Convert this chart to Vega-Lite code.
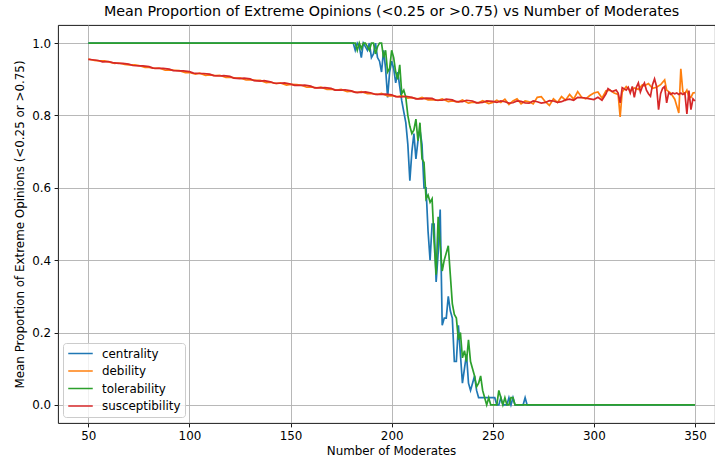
{
  "$schema": "https://vega.github.io/schema/vega-lite/v6.json",
  "width": 657,
  "height": 398,
  "autosize": {"type": "none"},
  "padding": {"left": 58, "top": 25, "right": 0, "bottom": 38},
  "title": {"text": "Mean Proportion of Extreme Opinions (<0.25 or >0.75) vs Number of Moderates", "fontSize": 14.3, "fontWeight": "normal", "color": "black", "offset": 6, "dx": 5},
  "config": {
    "font": "DejaVu Sans",
    "view": {"stroke": "black", "strokeWidth": 0.9},
    "axis": {"domain": false, "tickColor": "black", "tickSize": 3.9, "tickWidth": 0.9, "labelFontSize": 11.9, "labelColor": "black", "labelPadding": 3.5, "gridColor": "#b0b0b0", "gridWidth": 0.9, "titleFontSize": 11.9, "titleFontWeight": "normal", "titleColor": "black"},
    "legend": {"strokeColor": "#cccccc", "fillColor": "rgba(255,255,255,0.8)", "cornerRadius": 3, "padding": 4, "labelFontSize": 11.9, "labelColor": "black", "symbolType": "stroke", "symbolStrokeWidth": 1.7, "rowPadding": 4.5, "clipHeight": 13, "labelOffset": 8}
  },
  "data": {"values": [
    {"m":50,"v":1.0,"s":"centrality"},{"m":180,"v":1.0,"s":"centrality"},{"m":181,"v":1.0,"s":"centrality"},{"m":182,"v":0.98,"s":"centrality"},{"m":183,"v":1.0,"s":"centrality"},{"m":184,"v":0.99,"s":"centrality"},{"m":185,"v":0.96,"s":"centrality"},{"m":186,"v":1.0,"s":"centrality"},{"m":187,"v":0.99,"s":"centrality"},{"m":188,"v":0.98,"s":"centrality"},{"m":189,"v":1.0,"s":"centrality"},{"m":190,"v":0.96,"s":"centrality"},{"m":191,"v":0.97,"s":"centrality"},{"m":192,"v":1.0,"s":"centrality"},{"m":193,"v":0.96,"s":"centrality"},{"m":194,"v":0.95,"s":"centrality"},{"m":195,"v":0.92,"s":"centrality"},{"m":196,"v":0.98,"s":"centrality"},{"m":197,"v":0.93,"s":"centrality"},{"m":198,"v":0.85,"s":"centrality"},{"m":199,"v":0.92,"s":"centrality"},{"m":200,"v":0.95,"s":"centrality"},{"m":201,"v":0.93,"s":"centrality"},{"m":202,"v":0.89,"s":"centrality"},{"m":203,"v":0.92,"s":"centrality"},{"m":204,"v":0.88,"s":"centrality"},{"m":205,"v":0.84,"s":"centrality"},{"m":206,"v":0.81,"s":"centrality"},{"m":207,"v":0.78,"s":"centrality"},{"m":208,"v":0.72,"s":"centrality"},{"m":209,"v":0.62,"s":"centrality"},{"m":210,"v":0.7,"s":"centrality"},{"m":211,"v":0.75,"s":"centrality"},{"m":212,"v":0.68,"s":"centrality"},{"m":213,"v":0.73,"s":"centrality"},{"m":214,"v":0.76,"s":"centrality"},{"m":215,"v":0.72,"s":"centrality"},{"m":216,"v":0.6,"s":"centrality"},{"m":217,"v":0.6,"s":"centrality"},{"m":218,"v":0.48,"s":"centrality"},{"m":219,"v":0.4,"s":"centrality"},{"m":220,"v":0.5,"s":"centrality"},{"m":221,"v":0.5,"s":"centrality"},{"m":222,"v":0.34,"s":"centrality"},{"m":223,"v":0.42,"s":"centrality"},{"m":224,"v":0.54,"s":"centrality"},{"m":225,"v":0.22,"s":"centrality"},{"m":226,"v":0.24,"s":"centrality"},{"m":227,"v":0.24,"s":"centrality"},{"m":228,"v":0.3,"s":"centrality"},{"m":229,"v":0.26,"s":"centrality"},{"m":230,"v":0.24,"s":"centrality"},{"m":231,"v":0.12,"s":"centrality"},{"m":232,"v":0.12,"s":"centrality"},{"m":233,"v":0.22,"s":"centrality"},{"m":234,"v":0.14,"s":"centrality"},{"m":235,"v":0.06,"s":"centrality"},{"m":236,"v":0.1,"s":"centrality"},{"m":237,"v":0.14,"s":"centrality"},{"m":238,"v":0.06,"s":"centrality"},{"m":239,"v":0.04,"s":"centrality"},{"m":240,"v":0.06,"s":"centrality"},{"m":241,"v":0.08,"s":"centrality"},{"m":242,"v":0.04,"s":"centrality"},{"m":243,"v":0.02,"s":"centrality"},{"m":251,"v":0.02,"s":"centrality"},{"m":252,"v":0.0,"s":"centrality"},{"m":253,"v":0.0,"s":"centrality"},{"m":254,"v":0.02,"s":"centrality"},{"m":255,"v":0.0,"s":"centrality"},{"m":257,"v":0.0,"s":"centrality"},{"m":258,"v":0.02,"s":"centrality"},{"m":259,"v":0.0,"s":"centrality"},{"m":260,"v":0.02,"s":"centrality"},{"m":261,"v":0.0,"s":"centrality"},{"m":265,"v":0.0,"s":"centrality"},{"m":266,"v":0.02,"s":"centrality"},{"m":267,"v":0.0,"s":"centrality"},{"m":350,"v":0.0,"s":"centrality"},

    {"m":50,"v":0.956,"s":"debility"},{"m":53,"v":0.952,"s":"debility"},{"m":55,"v":0.951,"s":"debility"},{"m":58,"v":0.951,"s":"debility"},{"m":60,"v":0.948,"s":"debility"},{"m":63,"v":0.944,"s":"debility"},{"m":65,"v":0.945,"s":"debility"},{"m":68,"v":0.941,"s":"debility"},{"m":70,"v":0.94,"s":"debility"},{"m":73,"v":0.94,"s":"debility"},{"m":75,"v":0.938,"s":"debility"},{"m":78,"v":0.933,"s":"debility"},{"m":80,"v":0.933,"s":"debility"},{"m":83,"v":0.93,"s":"debility"},{"m":85,"v":0.931,"s":"debility"},{"m":88,"v":0.925,"s":"debility"},{"m":90,"v":0.926,"s":"debility"},{"m":93,"v":0.925,"s":"debility"},{"m":95,"v":0.924,"s":"debility"},{"m":98,"v":0.918,"s":"debility"},{"m":100,"v":0.919,"s":"debility"},{"m":103,"v":0.914,"s":"debility"},{"m":105,"v":0.917,"s":"debility"},{"m":108,"v":0.911,"s":"debility"},{"m":110,"v":0.912,"s":"debility"},{"m":113,"v":0.91,"s":"debility"},{"m":115,"v":0.911,"s":"debility"},{"m":118,"v":0.905,"s":"debility"},{"m":120,"v":0.906,"s":"debility"},{"m":123,"v":0.903,"s":"debility"},{"m":125,"v":0.904,"s":"debility"},{"m":128,"v":0.898,"s":"debility"},{"m":130,"v":0.899,"s":"debility"},{"m":133,"v":0.897,"s":"debility"},{"m":135,"v":0.897,"s":"debility"},{"m":138,"v":0.891,"s":"debility"},{"m":140,"v":0.892,"s":"debility"},{"m":143,"v":0.888,"s":"debility"},{"m":145,"v":0.89,"s":"debility"},{"m":148,"v":0.884,"s":"debility"},{"m":150,"v":0.886,"s":"debility"},{"m":153,"v":0.885,"s":"debility"},{"m":155,"v":0.884,"s":"debility"},{"m":158,"v":0.878,"s":"debility"},{"m":160,"v":0.879,"s":"debility"},{"m":163,"v":0.876,"s":"debility"},{"m":165,"v":0.878,"s":"debility"},{"m":168,"v":0.872,"s":"debility"},{"m":170,"v":0.873,"s":"debility"},{"m":173,"v":0.87,"s":"debility"},{"m":175,"v":0.872,"s":"debility"},{"m":178,"v":0.866,"s":"debility"},{"m":180,"v":0.867,"s":"debility"},{"m":183,"v":0.863,"s":"debility"},{"m":185,"v":0.866,"s":"debility"},{"m":188,"v":0.86,"s":"debility"},{"m":190,"v":0.86,"s":"debility"},{"m":193,"v":0.858,"s":"debility"},{"m":195,"v":0.861,"s":"debility"},{"m":198,"v":0.854,"s":"debility"},{"m":200,"v":0.855,"s":"debility"},{"m":203,"v":0.852,"s":"debility"},{"m":205,"v":0.855,"s":"debility"},{"m":208,"v":0.848,"s":"debility"},{"m":210,"v":0.849,"s":"debility"},{"m":213,"v":0.846,"s":"debility"},{"m":215,"v":0.85,"s":"debility"},{"m":218,"v":0.843,"s":"debility"},{"m":220,"v":0.844,"s":"debility"},{"m":223,"v":0.842,"s":"debility"},{"m":225,"v":0.846,"s":"debility"},{"m":228,"v":0.838,"s":"debility"},{"m":230,"v":0.84,"s":"debility"},{"m":233,"v":0.837,"s":"debility"},{"m":235,"v":0.843,"s":"debility"},{"m":238,"v":0.834,"s":"debility"},{"m":240,"v":0.837,"s":"debility"},{"m":243,"v":0.835,"s":"debility"},{"m":245,"v":0.841,"s":"debility"},{"m":248,"v":0.833,"s":"debility"},{"m":250,"v":0.836,"s":"debility"},{"m":252,"v":0.842,"s":"debility"},{"m":254,"v":0.836,"s":"debility"},{"m":256,"v":0.845,"s":"debility"},{"m":258,"v":0.83,"s":"debility"},{"m":260,"v":0.84,"s":"debility"},{"m":262,"v":0.846,"s":"debility"},{"m":264,"v":0.832,"s":"debility"},{"m":266,"v":0.84,"s":"debility"},{"m":268,"v":0.838,"s":"debility"},{"m":270,"v":0.832,"s":"debility"},{"m":272,"v":0.85,"s":"debility"},{"m":274,"v":0.852,"s":"debility"},{"m":276,"v":0.838,"s":"debility"},{"m":278,"v":0.828,"s":"debility"},{"m":280,"v":0.846,"s":"debility"},{"m":282,"v":0.836,"s":"debility"},{"m":284,"v":0.852,"s":"debility"},{"m":286,"v":0.842,"s":"debility"},{"m":288,"v":0.858,"s":"debility"},{"m":290,"v":0.845,"s":"debility"},{"m":292,"v":0.866,"s":"debility"},{"m":294,"v":0.85,"s":"debility"},{"m":296,"v":0.846,"s":"debility"},{"m":298,"v":0.855,"s":"debility"},{"m":300,"v":0.862,"s":"debility"},{"m":302,"v":0.865,"s":"debility"},{"m":304,"v":0.848,"s":"debility"},{"m":306,"v":0.868,"s":"debility"},{"m":308,"v":0.87,"s":"debility"},{"m":310,"v":0.862,"s":"debility"},{"m":312,"v":0.858,"s":"debility"},{"m":313,"v":0.796,"s":"debility"},{"m":314,"v":0.865,"s":"debility"},{"m":316,"v":0.88,"s":"debility"},{"m":318,"v":0.868,"s":"debility"},{"m":320,"v":0.876,"s":"debility"},{"m":322,"v":0.872,"s":"debility"},{"m":324,"v":0.885,"s":"debility"},{"m":325,"v":0.882,"s":"debility"},{"m":327,"v":0.888,"s":"debility"},{"m":329,"v":0.875,"s":"debility"},{"m":331,"v":0.878,"s":"debility"},{"m":333,"v":0.885,"s":"debility"},{"m":335,"v":0.898,"s":"debility"},{"m":336,"v":0.87,"s":"debility"},{"m":338,"v":0.862,"s":"debility"},{"m":340,"v":0.845,"s":"debility"},{"m":341,"v":0.826,"s":"debility"},{"m":342,"v":0.807,"s":"debility"},{"m":343,"v":0.929,"s":"debility"},{"m":344,"v":0.865,"s":"debility"},{"m":345,"v":0.86,"s":"debility"},{"m":346,"v":0.87,"s":"debility"},{"m":347,"v":0.852,"s":"debility"},{"m":348,"v":0.85,"s":"debility"},{"m":349,"v":0.862,"s":"debility"},{"m":350,"v":0.863,"s":"debility"},

    {"m":50,"v":1.0,"s":"tolerability"},{"m":182,"v":1.0,"s":"tolerability"},{"m":183,"v":0.98,"s":"tolerability"},{"m":184,"v":1.0,"s":"tolerability"},{"m":185,"v":0.985,"s":"tolerability"},{"m":186,"v":1.0,"s":"tolerability"},{"m":187,"v":1.0,"s":"tolerability"},{"m":188,"v":0.99,"s":"tolerability"},{"m":189,"v":0.98,"s":"tolerability"},{"m":190,"v":1.0,"s":"tolerability"},{"m":191,"v":1.0,"s":"tolerability"},{"m":192,"v":0.97,"s":"tolerability"},{"m":193,"v":0.99,"s":"tolerability"},{"m":194,"v":1.0,"s":"tolerability"},{"m":195,"v":1.0,"s":"tolerability"},{"m":196,"v":0.96,"s":"tolerability"},{"m":197,"v":0.98,"s":"tolerability"},{"m":198,"v":0.92,"s":"tolerability"},{"m":199,"v":0.93,"s":"tolerability"},{"m":200,"v":0.98,"s":"tolerability"},{"m":201,"v":0.96,"s":"tolerability"},{"m":202,"v":0.92,"s":"tolerability"},{"m":203,"v":0.9,"s":"tolerability"},{"m":204,"v":0.94,"s":"tolerability"},{"m":205,"v":0.86,"s":"tolerability"},{"m":206,"v":0.87,"s":"tolerability"},{"m":207,"v":0.85,"s":"tolerability"},{"m":208,"v":0.8,"s":"tolerability"},{"m":209,"v":0.77,"s":"tolerability"},{"m":210,"v":0.75,"s":"tolerability"},{"m":211,"v":0.76,"s":"tolerability"},{"m":212,"v":0.79,"s":"tolerability"},{"m":213,"v":0.73,"s":"tolerability"},{"m":214,"v":0.78,"s":"tolerability"},{"m":215,"v":0.68,"s":"tolerability"},{"m":216,"v":0.67,"s":"tolerability"},{"m":217,"v":0.57,"s":"tolerability"},{"m":218,"v":0.58,"s":"tolerability"},{"m":219,"v":0.56,"s":"tolerability"},{"m":220,"v":0.57,"s":"tolerability"},{"m":221,"v":0.45,"s":"tolerability"},{"m":222,"v":0.36,"s":"tolerability"},{"m":223,"v":0.52,"s":"tolerability"},{"m":224,"v":0.44,"s":"tolerability"},{"m":225,"v":0.37,"s":"tolerability"},{"m":226,"v":0.4,"s":"tolerability"},{"m":227,"v":0.42,"s":"tolerability"},{"m":228,"v":0.44,"s":"tolerability"},{"m":229,"v":0.36,"s":"tolerability"},{"m":230,"v":0.28,"s":"tolerability"},{"m":231,"v":0.25,"s":"tolerability"},{"m":232,"v":0.24,"s":"tolerability"},{"m":233,"v":0.18,"s":"tolerability"},{"m":234,"v":0.2,"s":"tolerability"},{"m":235,"v":0.13,"s":"tolerability"},{"m":236,"v":0.15,"s":"tolerability"},{"m":237,"v":0.12,"s":"tolerability"},{"m":238,"v":0.18,"s":"tolerability"},{"m":239,"v":0.12,"s":"tolerability"},{"m":240,"v":0.1,"s":"tolerability"},{"m":241,"v":0.08,"s":"tolerability"},{"m":242,"v":0.05,"s":"tolerability"},{"m":243,"v":0.06,"s":"tolerability"},{"m":244,"v":0.08,"s":"tolerability"},{"m":245,"v":0.04,"s":"tolerability"},{"m":246,"v":0.02,"s":"tolerability"},{"m":247,"v":0.0,"s":"tolerability"},{"m":248,"v":0.02,"s":"tolerability"},{"m":249,"v":0.0,"s":"tolerability"},{"m":252,"v":0.0,"s":"tolerability"},{"m":253,"v":0.04,"s":"tolerability"},{"m":254,"v":0.02,"s":"tolerability"},{"m":255,"v":0.0,"s":"tolerability"},{"m":256,"v":0.02,"s":"tolerability"},{"m":257,"v":0.0,"s":"tolerability"},{"m":258,"v":0.0,"s":"tolerability"},{"m":259,"v":0.02,"s":"tolerability"},{"m":260,"v":0.02,"s":"tolerability"},{"m":261,"v":0.0,"s":"tolerability"},{"m":350,"v":0.0,"s":"tolerability"},

    {"m":50,"v":0.955,"s":"susceptibility"},{"m":52,"v":0.954,"s":"susceptibility"},{"m":55,"v":0.952,"s":"susceptibility"},{"m":57,"v":0.948,"s":"susceptibility"},{"m":60,"v":0.949,"s":"susceptibility"},{"m":62,"v":0.946,"s":"susceptibility"},{"m":65,"v":0.944,"s":"susceptibility"},{"m":67,"v":0.944,"s":"susceptibility"},{"m":70,"v":0.942,"s":"susceptibility"},{"m":72,"v":0.938,"s":"susceptibility"},{"m":75,"v":0.937,"s":"susceptibility"},{"m":77,"v":0.937,"s":"susceptibility"},{"m":80,"v":0.935,"s":"susceptibility"},{"m":82,"v":0.931,"s":"susceptibility"},{"m":85,"v":0.93,"s":"susceptibility"},{"m":87,"v":0.93,"s":"susceptibility"},{"m":90,"v":0.928,"s":"susceptibility"},{"m":92,"v":0.924,"s":"susceptibility"},{"m":95,"v":0.923,"s":"susceptibility"},{"m":97,"v":0.923,"s":"susceptibility"},{"m":100,"v":0.921,"s":"susceptibility"},{"m":102,"v":0.917,"s":"susceptibility"},{"m":105,"v":0.916,"s":"susceptibility"},{"m":107,"v":0.916,"s":"susceptibility"},{"m":110,"v":0.914,"s":"susceptibility"},{"m":112,"v":0.91,"s":"susceptibility"},{"m":115,"v":0.909,"s":"susceptibility"},{"m":117,"v":0.91,"s":"susceptibility"},{"m":120,"v":0.908,"s":"susceptibility"},{"m":122,"v":0.903,"s":"susceptibility"},{"m":125,"v":0.902,"s":"susceptibility"},{"m":127,"v":0.903,"s":"susceptibility"},{"m":130,"v":0.901,"s":"susceptibility"},{"m":132,"v":0.896,"s":"susceptibility"},{"m":135,"v":0.895,"s":"susceptibility"},{"m":137,"v":0.896,"s":"susceptibility"},{"m":140,"v":0.893,"s":"susceptibility"},{"m":142,"v":0.889,"s":"susceptibility"},{"m":145,"v":0.889,"s":"susceptibility"},{"m":147,"v":0.89,"s":"susceptibility"},{"m":150,"v":0.887,"s":"susceptibility"},{"m":152,"v":0.883,"s":"susceptibility"},{"m":155,"v":0.883,"s":"susceptibility"},{"m":157,"v":0.884,"s":"susceptibility"},{"m":160,"v":0.881,"s":"susceptibility"},{"m":162,"v":0.876,"s":"susceptibility"},{"m":165,"v":0.876,"s":"susceptibility"},{"m":167,"v":0.877,"s":"susceptibility"},{"m":170,"v":0.875,"s":"susceptibility"},{"m":172,"v":0.87,"s":"susceptibility"},{"m":175,"v":0.87,"s":"susceptibility"},{"m":177,"v":0.871,"s":"susceptibility"},{"m":180,"v":0.868,"s":"susceptibility"},{"m":182,"v":0.864,"s":"susceptibility"},{"m":185,"v":0.864,"s":"susceptibility"},{"m":187,"v":0.865,"s":"susceptibility"},{"m":190,"v":0.862,"s":"susceptibility"},{"m":192,"v":0.858,"s":"susceptibility"},{"m":195,"v":0.858,"s":"susceptibility"},{"m":197,"v":0.859,"s":"susceptibility"},{"m":200,"v":0.857,"s":"susceptibility"},{"m":202,"v":0.852,"s":"susceptibility"},{"m":205,"v":0.851,"s":"susceptibility"},{"m":207,"v":0.853,"s":"susceptibility"},{"m":210,"v":0.85,"s":"susceptibility"},{"m":212,"v":0.846,"s":"susceptibility"},{"m":215,"v":0.846,"s":"susceptibility"},{"m":217,"v":0.848,"s":"susceptibility"},{"m":220,"v":0.847,"s":"susceptibility"},{"m":222,"v":0.842,"s":"susceptibility"},{"m":225,"v":0.842,"s":"susceptibility"},{"m":227,"v":0.845,"s":"susceptibility"},{"m":230,"v":0.843,"s":"susceptibility"},{"m":232,"v":0.838,"s":"susceptibility"},{"m":235,"v":0.838,"s":"susceptibility"},{"m":237,"v":0.842,"s":"susceptibility"},{"m":240,"v":0.84,"s":"susceptibility"},{"m":242,"v":0.835,"s":"susceptibility"},{"m":245,"v":0.836,"s":"susceptibility"},{"m":247,"v":0.84,"s":"susceptibility"},{"m":250,"v":0.839,"s":"susceptibility"},{"m":252,"v":0.836,"s":"susceptibility"},{"m":254,"v":0.84,"s":"susceptibility"},{"m":256,"v":0.838,"s":"susceptibility"},{"m":258,"v":0.834,"s":"susceptibility"},{"m":260,"v":0.835,"s":"susceptibility"},{"m":262,"v":0.84,"s":"susceptibility"},{"m":264,"v":0.839,"s":"susceptibility"},{"m":266,"v":0.835,"s":"susceptibility"},{"m":268,"v":0.834,"s":"susceptibility"},{"m":270,"v":0.84,"s":"susceptibility"},{"m":272,"v":0.838,"s":"susceptibility"},{"m":274,"v":0.834,"s":"susceptibility"},{"m":276,"v":0.836,"s":"susceptibility"},{"m":278,"v":0.841,"s":"susceptibility"},{"m":280,"v":0.84,"s":"susceptibility"},{"m":282,"v":0.836,"s":"susceptibility"},{"m":284,"v":0.838,"s":"susceptibility"},{"m":286,"v":0.843,"s":"susceptibility"},{"m":288,"v":0.845,"s":"susceptibility"},{"m":290,"v":0.842,"s":"susceptibility"},{"m":292,"v":0.85,"s":"susceptibility"},{"m":295,"v":0.849,"s":"susceptibility"},{"m":298,"v":0.846,"s":"susceptibility"},{"m":300,"v":0.844,"s":"susceptibility"},{"m":302,"v":0.85,"s":"susceptibility"},{"m":304,"v":0.842,"s":"susceptibility"},{"m":306,"v":0.86,"s":"susceptibility"},{"m":307,"v":0.874,"s":"susceptibility"},{"m":309,"v":0.866,"s":"susceptibility"},{"m":311,"v":0.87,"s":"susceptibility"},{"m":312,"v":0.862,"s":"susceptibility"},{"m":313,"v":0.835,"s":"susceptibility"},{"m":314,"v":0.877,"s":"susceptibility"},{"m":316,"v":0.87,"s":"susceptibility"},{"m":317,"v":0.878,"s":"susceptibility"},{"m":318,"v":0.862,"s":"susceptibility"},{"m":319,"v":0.88,"s":"susceptibility"},{"m":320,"v":0.85,"s":"susceptibility"},{"m":321,"v":0.878,"s":"susceptibility"},{"m":322,"v":0.89,"s":"susceptibility"},{"m":323,"v":0.865,"s":"susceptibility"},{"m":324,"v":0.88,"s":"susceptibility"},{"m":325,"v":0.89,"s":"susceptibility"},{"m":326,"v":0.87,"s":"susceptibility"},{"m":327,"v":0.86,"s":"susceptibility"},{"m":328,"v":0.853,"s":"susceptibility"},{"m":329,"v":0.885,"s":"susceptibility"},{"m":330,"v":0.901,"s":"susceptibility"},{"m":331,"v":0.88,"s":"susceptibility"},{"m":332,"v":0.816,"s":"susceptibility"},{"m":333,"v":0.86,"s":"susceptibility"},{"m":334,"v":0.875,"s":"susceptibility"},{"m":335,"v":0.88,"s":"susceptibility"},{"m":336,"v":0.835,"s":"susceptibility"},{"m":337,"v":0.863,"s":"susceptibility"},{"m":338,"v":0.858,"s":"susceptibility"},{"m":339,"v":0.862,"s":"susceptibility"},{"m":340,"v":0.86,"s":"susceptibility"},{"m":341,"v":0.862,"s":"susceptibility"},{"m":342,"v":0.858,"s":"susceptibility"},{"m":343,"v":0.862,"s":"susceptibility"},{"m":344,"v":0.858,"s":"susceptibility"},{"m":345,"v":0.862,"s":"susceptibility"},{"m":346,"v":0.804,"s":"susceptibility"},{"m":347,"v":0.869,"s":"susceptibility"},{"m":348,"v":0.816,"s":"susceptibility"},{"m":349,"v":0.846,"s":"susceptibility"},{"m":350,"v":0.84,"s":"susceptibility"}
  ]},
  "encoding": {
    "x": {"field": "m", "type": "quantitative", "title": "Number of Moderates", "scale": {"domain": [35, 359.9], "nice": false, "zero": false}, "axis": {"values": [50, 100, 150, 200, 250, 300, 350], "format": "d", "titleX": 333, "titlePadding": 4.5}},
    "y": {"field": "v", "type": "quantitative", "title": "Mean Proportion of Extreme Opinions (<0.25 or >0.75)", "scale": {"domain": [-0.05, 1.05], "nice": false, "zero": false}, "axis": {"values": [0, 0.2, 0.4, 0.6, 0.8, 1.0], "format": ".1f", "titlePadding": 6}},
    "color": {"field": "s", "type": "nominal", "scale": {"domain": ["centrality", "debility", "tolerability", "susceptibility"], "range": ["#1f77b4", "#ff7f0e", "#2ca02c", "#d62728"]}, "legend": {"title": null, "orient": "none", "legendX": 5, "legendY": 318, "symbolSize": 600}}
  },
  "layer": [
    {"transform": [{"filter": "datum.s == 'centrality'"}], "mark": {"type": "line", "strokeWidth": 1.7}},
    {"transform": [{"filter": "datum.s == 'debility'"}], "mark": {"type": "line", "strokeWidth": 1.7}},
    {"transform": [{"filter": "datum.s == 'tolerability'"}], "mark": {"type": "line", "strokeWidth": 1.7}},
    {"transform": [{"filter": "datum.s == 'susceptibility'"}], "mark": {"type": "line", "strokeWidth": 1.7}}
  ]
}
